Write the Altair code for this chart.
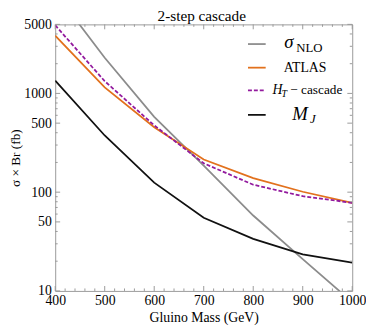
import altair as alt
import pandas as pd

# ---- data ----
mass = [400, 500, 600, 700, 800, 900, 1000]
sigma_nlo = [10500, 2300, 580, 186, 58, 21, 7.7]
atlas = [3850, 1150, 455, 214, 139, 101, 78]
ht_cascade = [4900, 1330, 475, 196, 119, 91, 78]
mj = [1350, 375, 125, 55, 33.7, 23.5, 19.3]

x_ticks = [400, 500, 600, 700, 800, 900, 1000]
x_minor = [420, 440, 460, 480, 520, 540, 560, 580, 620, 640, 660, 680,
           720, 740, 760, 780, 820, 840, 860, 880, 920, 940, 960, 980]
y_ticks = [10, 50, 100, 500, 1000, 5000]
y_minor = [20, 30, 40, 60, 70, 80, 90, 200, 300, 400, 600, 700, 800, 900,
           2000, 3000, 4000]

title = "2-step cascade"
x_title = "Gluino Mass (GeV)"
y_title = "σ × Br (fb)"

W, H = 302, 271
SERIF = "Liberation Serif"
FRAME = "#9a9a9a"

xscale = alt.Scale(domain=[400, 1000], nice=False, zero=False)
yscale = alt.Scale(type="log", domain=[10, 5000], nice=False)

xaxis = alt.Axis(values=x_ticks, format="d", title=x_title, ticks=False, domain=False,
                 grid=False, labelFont=SERIF, labelFontSize=14, labelColor="black",
                 labelPadding=3, labelFlush=False, titleFont=SERIF, titleFontSize=14,
                 titleFontWeight="normal", titleColor="black", titlePadding=3)
yaxis = alt.Axis(values=y_ticks, format="d", title=y_title, ticks=False, domain=False,
                 grid=False, labelFont=SERIF, labelFontSize=14, labelColor="black",
                 labelPadding=4, labelFlush=False, titleFont=SERIF, titleFontSize=13.5,
                 titleFontWeight="normal", titleColor="black",
                 titleX=-40, titleY=H / 2, titleAngle=270,
                 titleAlign="center", titleBaseline="middle")


def line(vals, color, dash=None):
    df = pd.DataFrame({"mass": mass, "v": vals})
    kw = dict(color=color, strokeWidth=1.8, clip=True)
    if dash:
        kw["strokeDash"] = dash
    return alt.Chart(df).mark_line(**kw).encode(
        x=alt.X("mass:Q", scale=xscale, axis=xaxis),
        y=alt.Y("v:Q", scale=yscale, axis=yaxis),
    )


GRAY = "#8c8c8c"
ORANGE = "#e2711d"
PURPLE = "#931a9e"
BLACK = "#111111"

lines = [
    line(sigma_nlo, GRAY),
    line(mj, BLACK),
    line(atlas, ORANGE),
    line(ht_cascade, PURPLE, [4, 2]),
]


def xticks(vals, length):
    df = pd.DataFrame({"t": vals})
    b = alt.Chart(df).mark_rule(color=FRAME, strokeWidth=1)
    bottom = b.encode(x=alt.X("t:Q", scale=xscale, axis=xaxis),
                      y=alt.value(H), y2=alt.value(H - length))
    top = b.encode(x=alt.X("t:Q", scale=xscale, axis=xaxis),
                   y=alt.value(0), y2=alt.value(length))
    return [bottom, top]


def yticks(vals, length):
    df = pd.DataFrame({"t": vals})
    b = alt.Chart(df).mark_rule(color=FRAME, strokeWidth=1)
    left = b.encode(y=alt.Y("t:Q", scale=yscale, axis=yaxis),
                    x=alt.value(0), x2=alt.value(length))
    right = b.encode(y=alt.Y("t:Q", scale=yscale, axis=yaxis),
                     x=alt.value(W), x2=alt.value(W - length))
    return [left, right]


ticks = xticks(x_ticks, 5) + xticks(x_minor, 2.5) + yticks(y_ticks, 5) + yticks(y_minor, 2.5)

# ---- legend ----
leg_y = [20, 44, 67, 92]
leg_colors = [GRAY, ORANGE, PURPLE, BLACK]
legend = []
for i, (yy, col) in enumerate(zip(leg_y, leg_colors)):
    kw = dict(color=col, strokeWidth=1.8)
    if col == PURPLE:
        kw["strokeDash"] = [4, 2]
    legend.append(
        alt.Chart(pd.DataFrame({"k": [i]})).mark_rule(**kw).encode(
            x=alt.value(196), x2=alt.value(214), y=alt.value(yy))
    )


def txt(s, x, y, size, italic=False, align="left"):
    kw = dict(font=SERIF, fontSize=size, align=align, baseline="alphabetic", color="black")
    if italic:
        kw["fontStyle"] = "italic"
    return alt.Chart(pd.DataFrame({"s": [s]})).mark_text(**kw).encode(
        text="s:N", x=alt.value(x), y=alt.value(y))


legend += [
    txt("σ", 233, 24, 19, italic=True),
    txt("NLO", 245, 28, 13),
    txt("ATLAS", 254, 48, 14, align="center"),
    txt("H", 221, 71, 14, italic=True),
    txt("T", 230, 74, 10, italic=True),
    txt("− cascade", 239, 71, 13.5),
    txt("M", 241, 97, 19, italic=True),
    txt("J", 259, 100, 13, italic=True),
]

title_layer = txt(title, W / 2 - 2, -3, 15.5, align="center")

chart = alt.layer(*lines, *ticks, *legend, title_layer).properties(
    width=W, height=H,
    autosize=alt.AutoSizeParams(type="none"),
    padding={"left": 48, "top": 14, "right": 14, "bottom": 33},
).configure_view(stroke=FRAME, strokeWidth=1)

chart.save("out.html", embed_options={"renderer": "svg", "actions": False})
